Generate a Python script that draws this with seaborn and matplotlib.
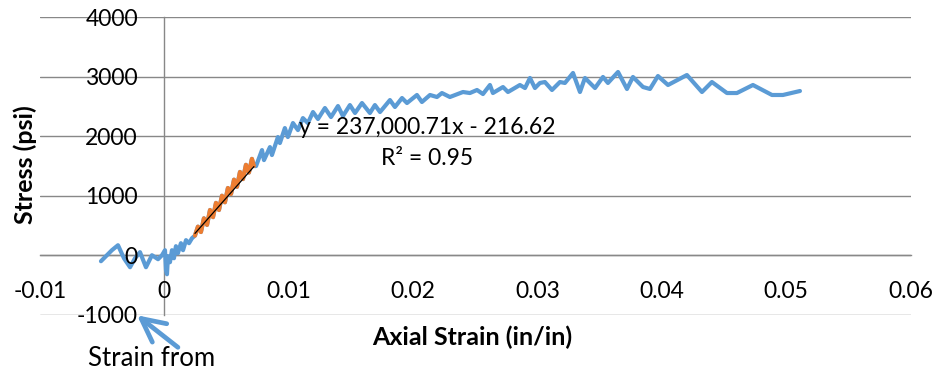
import numpy as np
import pandas as pd
import matplotlib
matplotlib.use("Agg")
import matplotlib.pyplot as plt
import seaborn as sns

# ---- data ----
pre_strain = [-0.00510, -0.00470, -0.00422, -0.00373, -0.00325, -0.00276, -0.00236,
              -0.00196, -0.00148, -0.00100, -0.00051, -0.00019, 0.00005, 0.00013,
              0.00021, 0.00029, 0.00045, 0.00061, 0.00077, 0.00093, 0.00109, 0.00133,
              0.00150, 0.00174, 0.00198, 0.00222]
pre_stress = [-101, -17, 84, 168, -51, -202, -51, 51, -202, 0, -67, 0, 84, -253,
              -320, -17, -118, 84, -51, 152, 34, 202, 84, 253, 202, 286]

fit_strain = [0.00246, 0.00270, 0.00294, 0.00318, 0.00343, 0.00367, 0.00391, 0.00415,
              0.00439, 0.00463, 0.00487, 0.00511, 0.00536, 0.00560, 0.00584, 0.00608,
              0.00632, 0.00656, 0.00680, 0.00704, 0.00720]
fit_stress = [330, 480, 390, 620, 510, 760, 640, 880, 760, 1000, 890, 1130, 1030, 1270,
              1150, 1400, 1280, 1520, 1390, 1620, 1500]

post_strain = [0.00737, 0.00785, 0.00801, 0.00849, 0.00865, 0.00913, 0.00929, 0.00969,
               0.00993, 0.01034, 0.01074, 0.01114, 0.01154, 0.01195, 0.01235, 0.01291,
               0.01340, 0.01396, 0.01436, 0.01492, 0.01533, 0.01589, 0.01653, 0.01693,
               0.01734, 0.01814, 0.01854, 0.01911, 0.01951, 0.02031, 0.02071, 0.02136,
               0.02192, 0.02232, 0.02296, 0.02401, 0.02457, 0.02514, 0.02562, 0.02618,
               0.02642, 0.02723, 0.02763, 0.02859, 0.02900, 0.02940, 0.02980, 0.03020,
               0.03060, 0.03117, 0.03181, 0.03221, 0.03286, 0.03342, 0.03382, 0.03463,
               0.03527, 0.03567, 0.03648, 0.03720, 0.03768, 0.03849, 0.03905, 0.03969,
               0.04050, 0.04202, 0.04323, 0.04403, 0.04524, 0.04604, 0.04733, 0.04886,
               0.04974, 0.05111]
post_stress = [1498, 1768, 1599, 1818, 1684, 1987, 1886, 2138, 1987, 2222, 2104, 2306,
               2222, 2407, 2290, 2475, 2323, 2508, 2340, 2525, 2391, 2559, 2391, 2525,
               2407, 2609, 2492, 2643, 2559, 2694, 2576, 2694, 2660, 2727, 2660, 2744,
               2727, 2778, 2710, 2862, 2727, 2828, 2744, 2862, 2811, 2980, 2811, 2896,
               2912, 2778, 2912, 2896, 3064, 2744, 2980, 2811, 2997, 2896, 3081, 2795,
               2997, 2828, 2795, 3013, 2862, 3030, 2744, 2912, 2727, 2727, 2862, 2694,
               2694, 2761]

trend_slope = 237000.71
trend_intercept = -216.62
equation_text = "y = 237,000.71x - 216.62"
r2_text = "R² = 0.95"

x_ticks = [-0.01, 0.0, 0.01, 0.02, 0.03, 0.04, 0.05, 0.06]
x_tick_labels = ["-0.01", "0", "0.01", "0.02", "0.03", "0.04", "0.05", "0.06"]
y_ticks = [-1000, 0, 1000, 2000, 3000, 4000]
y_tick_labels = ["-1000", "0", "1000", "2000", "3000", "4000"]

x_label = "Axial Strain (in/in)"
y_label = "Stress (psi)"
note_text = "Strain from"

# ---- style ----
sns.set_theme(style="white")
plt.rcParams['font.family'] = ['Lato', 'DejaVu Sans']

BLUE = "#5B9BD5"
ORANGE = "#ED7D31"
GRID = "#888888"

fig = plt.figure(figsize=(9.35, 3.74), dpi=100)
ax = fig.add_axes([0.0428, 0.1586, 0.931, 0.7951])

all_df = pd.DataFrame({"strain": pre_strain + fit_strain + post_strain,
                       "stress": pre_stress + fit_stress + post_stress})
fit_df = pd.DataFrame({"strain": fit_strain, "stress": fit_stress})
tx = np.array([min(fit_strain), max(fit_strain)])
trend_df = pd.DataFrame({"strain": tx, "stress": trend_slope * tx + trend_intercept})

sns.lineplot(data=all_df, x="strain", y="stress", sort=False, estimator=None,
             color=BLUE, lw=3.0, ax=ax, zorder=3,
             solid_joinstyle="round", solid_capstyle="round")
sns.lineplot(data=fit_df, x="strain", y="stress", sort=False, estimator=None,
             color=ORANGE, lw=3.0, ax=ax, zorder=4,
             solid_joinstyle="round", solid_capstyle="round")
sns.lineplot(data=trend_df, x="strain", y="stress", sort=False, estimator=None,
             color="black", lw=0.9, ax=ax, zorder=5)

ax.set_xlim(-0.01, 0.06)
ax.set_ylim(-1000, 4000)

for yt in y_ticks:
    ax.axhline(yt, color=GRID, lw=1.0, zorder=1)

for s in ["top", "right"]:
    ax.spines[s].set_visible(False)
ax.spines["left"].set_position(("data", 0))
ax.spines["bottom"].set_position(("data", 0))
for s in ["left", "bottom"]:
    ax.spines[s].set_color(GRID)
    ax.spines[s].set_linewidth(1.0)
    ax.spines[s].set_zorder(1.5)

ax.set_xticks(x_ticks, labels=x_tick_labels)
ax.set_yticks(y_ticks, labels=y_tick_labels)
ax.tick_params(axis="x", direction="out", length=5.5, width=1.0, color=GRID,
               pad=13, labelsize=16.5, labelcolor="black")
ax.tick_params(axis="y", length=0, pad=19, labelsize=16.5, labelcolor="black")
ax.xaxis.set_zorder(6)
ax.yaxis.set_zorder(6)

ax.set_xlabel(x_label, fontsize=18, fontweight="bold", color="black")
ax.set_ylabel(y_label, fontsize=18, fontweight="bold", color="black")
ax.xaxis.set_label_coords(0.497, -0.075)
ax.xaxis.label.set_va("center")
ax.yaxis.set_label_coords(-0.0172, 0.503)
ax.yaxis.label.set_va("center")

ax.text(0.02112, 2155, equation_text, ha="center", va="center", fontsize=16.5,
        color="black", zorder=7)
ax.text(0.02112, 1633, r2_text, ha="center", va="center", fontsize=16.5,
        color="black", zorder=7)

ax.annotate("", xy=(-0.0022, -1010), xytext=(0.00109, -1549),
            arrowprops=dict(arrowstyle="->,head_length=1.4,head_width=0.7",
                            lw=3.4, color=BLUE, shrinkA=0, shrinkB=0),
            annotation_clip=False, zorder=7)
ax.text(-0.00614, -1734, note_text, ha="left", va="center", fontsize=18.5,
        color="black", clip_on=False)

fig.savefig("out.png", dpi=100)
